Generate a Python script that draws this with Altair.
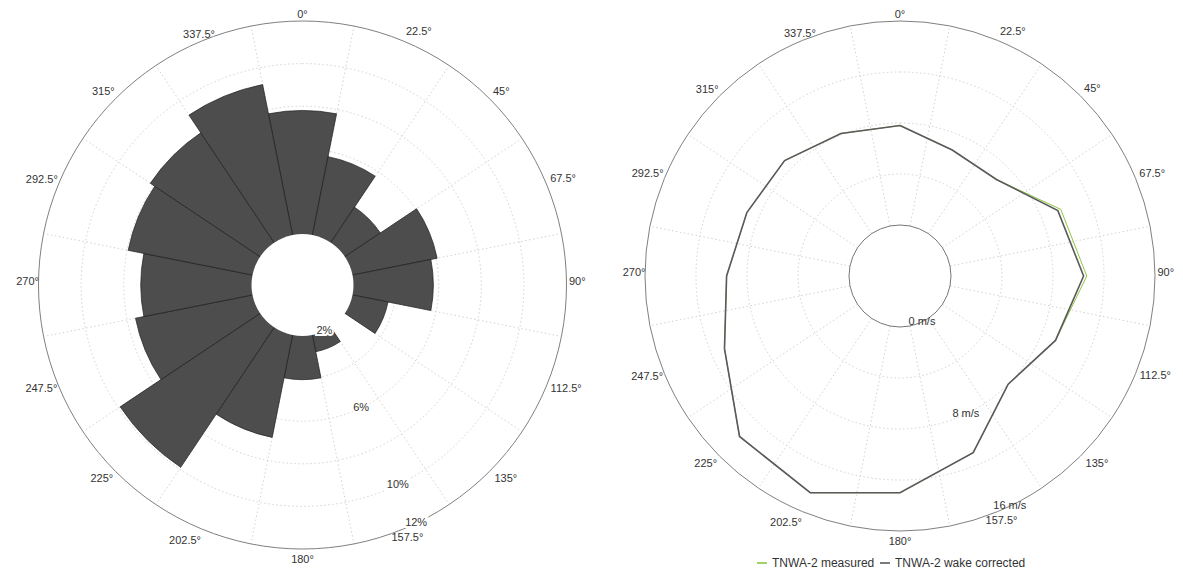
import math
import altair as alt
import pandas as pd

# ---------------- data ----------------
directions = [0, 22.5, 45, 67.5, 90, 112.5, 135, 157.5,
              180, 202.5, 225, 247.5, 270, 292.5, 315, 337.5]
angle_labels = ["0°", "22.5°", "45°", "67.5°", "90°", "112.5°", "135°", "157.5°",
                "180°", "202.5°", "225°", "247.5°", "270°", "292.5°", "315°", "337.5°"]

# wind rose frequencies (%)
freq_pct = [7.8, 5.75, 4.0, 6.05, 5.75, 3.7, 1.7, 2.8,
            4.05, 6.9, 9.9, 7.6, 7.2, 7.95, 8.2, 9.2]
freq_ticks = [2, 4, 6, 8, 10, 12]
freq_label_values = [2, 6, 10, 12]
freq_label_text = ["2%", "6%", "10%", "12%"]

# mean wind speed per direction (m/s)
series_names = ["TNWA-2 measured", "TNWA-2 wake corrected"]
speed_measured = [7.8, 6.7, 6.7, 9.65, 10.65, 9.2, 8.0, 11.0,
                  13.0, 14.4, 13.8, 10.9, 9.6, 9.0, 8.8, 8.1]
speed_corrected = [7.8, 6.7, 6.7, 9.4, 10.4, 9.2, 8.0, 11.0,
                   13.0, 14.4, 13.8, 10.9, 9.6, 9.0, 8.8, 8.1]
speed_ticks = [0, 4, 8, 12, 16]
speed_label_values = [0, 8, 16]
speed_label_text = ["0 m/s", "8 m/s", "16 m/s"]

# ---------------- styling / layout ----------------
FONT = "Liberation Sans"
TXT = "#333333"
GRID = "#d2d2d2"
H = 556
WL, WR = 594, 573
LABEL_ANGLE = 154.5
SECTOR = 22.5
SERIES_COLORS = ["#8dc63f", "#5a5a5a"]

TS = alt.Scale(type="linear", domain=[0, 360], range=[0, 2 * math.pi])

# label groups: (filter, align, base offset px, |cos| term, lower term, dx, dy)
LABEL_GROUPS = [
    ("datum.dir == 0 || datum.dir == 337.5", "center", 6.5, 0, 0, 0, 0),
    ("datum.dir == 180 || datum.dir == 157.5", "center", 6.5, 0, 4, 0, 0),
    ("datum.dir > 0 && datum.dir <= 90", "left", 2.5, 4, 0, 0, -3),
    ("datum.dir > 90 && datum.dir < 150", "left", 2.5, 4, 7, -2, 0),
    ("datum.dir > 190 && datum.dir < 260", "right", 1.5, 4, 7, 4, 1),
    ("datum.dir > 260 && datum.dir < 330", "right", 1.5, 4, 0, 2, -3),
]


def frame(width, cx, cy, R, hole, ticks):
    lo, hi = ticks[0], ticks[-1]
    k = (R - hole) / (hi - lo)          # px per data unit
    off = hole / k - lo                 # radial unit u = value + off
    uout = hi + off
    RS = alt.Scale(type="linear", domain=[0, uout], range=[0, R], zero=True, nice=False)
    XS = alt.Scale(domain=[-cx / k, (width - cx) / k], nice=False, zero=False)
    YS = alt.Scale(domain=[-(H - cy) / k, cy / k], nice=False, zero=False)
    return k, off, uout, RS, XS, YS


def circles(values, off, RS, cx, cy, **style):
    df = pd.DataFrame({"v": values})
    return alt.Chart(df).transform_calculate(u=f"datum.v + {off}").mark_arc(**style).encode(
        theta=alt.value(0), theta2=alt.value(2 * math.pi),
        radius=alt.Radius("u:Q", scale=RS, stack=None),
        x=alt.value(cx), y=alt.value(cy),
    )


def spokes(lo, hi, off, XS, YS):
    df = pd.DataFrame({"dir": directions})
    return alt.Chart(df).transform_calculate(
        a=f"(datum.dir + {SECTOR / 2}) * PI / 180",
        ui=f"{lo + off}", uo=f"{hi + off}",
    ).transform_calculate(
        x="datum.ui * sin(datum.a)", y="datum.ui * cos(datum.a)",
        x2="datum.uo * sin(datum.a)", y2="datum.uo * cos(datum.a)",
    ).mark_rule(color=GRID, strokeDash=[1.5, 2.5], strokeWidth=1).encode(
        x=alt.X("x:Q", scale=XS, axis=None), y=alt.Y("y:Q", scale=YS, axis=None),
        x2="x2:Q", y2="y2:Q",
    )


def angle_text(uout, k, RS, cx, cy):
    df = pd.DataFrame({"dir": directions, "label": angle_labels})
    c = "cos(datum.dir * PI / 180)"
    layers = []
    for flt, align, base, ca, lo, dx, dy in LABEL_GROUPS:
        layers.append(
            alt.Chart(df).transform_filter(flt).transform_calculate(
                ur=f"{uout} + ({base} + {ca} * abs({c}) + {lo} * max(0, -{c})) / {k}"
            ).mark_text(align=align, baseline="middle", dx=dx, dy=dy, font=FONT,
                        fontSize=11, color=TXT).encode(
                theta=alt.Theta("dir:Q", scale=TS, stack=None),
                radius=alt.Radius("ur:Q", scale=RS, stack=None),
                text="label:N", x=alt.value(cx), y=alt.value(cy))
        )
    return layers


def radial_text(values, texts, off, RS, cx, cy, halo):
    df = pd.DataFrame({"v": values, "t": texts})
    base = alt.Chart(df).transform_calculate(u=f"datum.v + {off}", a=f"{LABEL_ANGLE}")
    enc = dict(theta=alt.Theta("a:Q", scale=TS, stack=None),
               radius=alt.Radius("u:Q", scale=RS, stack=None), text="t:N",
               x=alt.value(cx), y=alt.value(cy))
    layers = []
    if halo:
        layers.append(base.mark_text(font=FONT, fontSize=11, color="white", stroke="white",
                                     strokeWidth=4, align="center", baseline="middle").encode(**enc))
    layers.append(base.mark_text(font=FONT, fontSize=11, color=TXT,
                                 align="center", baseline="middle").encode(**enc))
    return layers


# ---------------- left: wind rose ----------------
CXL, CYL, RL, HOLEL = 294.5, 276, 264, 51
kL, offL, uoutL, RSL, XSL, YSL = frame(WL, CXL, CYL, RL, HOLEL, freq_ticks)

bars_df = pd.DataFrame({"dir": directions, "pct": freq_pct})
bars = alt.Chart(bars_df).transform_calculate(
    u=f"datum.pct + {offL}", t0=f"datum.dir - {SECTOR / 2}", t1=f"datum.dir + {SECTOR / 2}"
).mark_arc(fill="#4d4d4d", stroke="#1e1e1e", strokeWidth=0.7).encode(
    theta=alt.Theta("t0:Q", scale=TS, stack=None), theta2=alt.Theta2("t1:Q"),
    radius=alt.Radius("u:Q", scale=RSL, stack=None),
    x=alt.value(CXL), y=alt.value(CYL),
)

left = alt.layer(
    spokes(freq_ticks[0], freq_ticks[-1], offL, XSL, YSL),
    circles(freq_ticks[1:-1], offL, RSL, CXL, CYL, filled=False, stroke=GRID,
            strokeDash=[1.5, 2.5], strokeWidth=1),
    bars,
    circles([freq_ticks[0]], offL, RSL, CXL, CYL, fill="white", strokeWidth=0),
    circles([freq_ticks[-1]], offL, RSL, CXL, CYL, filled=False, stroke="#808080", strokeWidth=1),
    *angle_text(uoutL, kL, RSL, CXL, CYL),
    *radial_text(freq_label_values, freq_label_text, offL, RSL, CXL, CYL, True),
).properties(width=WL, height=H)

# ---------------- right: mean speed ----------------
CXR, CYR, RR, HOLER = 892 - WL, 267, 255, 51
kR, offR, uoutR, RSR, XSR, YSR = frame(WR, CXR, CYR, RR, HOLER, speed_ticks)

COLOR = alt.Color(
    "series:N", scale=alt.Scale(domain=series_names, range=SERIES_COLORS),
    legend=alt.Legend(orient="none", legendX=748, legendY=548, direction="horizontal",
                      title=None, symbolType="stroke", symbolStrokeWidth=1.6,
                      symbolSize=100, labelFont=FONT, labelFontSize=12,
                      labelColor=TXT, labelOffset=4, columnPadding=1, padding=0))


def speed_line(values, name, width):
    df = pd.DataFrame({"dir": directions, "speed": values, "series": [name] * len(directions)})
    return alt.Chart(df).transform_calculate(
        u=f"datum.speed + {offR}", a="datum.dir * PI / 180"
    ).transform_calculate(
        x="datum.u * sin(datum.a)", y="datum.u * cos(datum.a)"
    ).mark_line(interpolate="linear-closed", strokeWidth=width).encode(
        x=alt.X("x:Q", scale=XSR, axis=None),
        y=alt.Y("y:Q", scale=YSR, axis=None),
        order=alt.Order("dir:Q"),
        color=COLOR,
    )


right = alt.layer(
    spokes(speed_ticks[0], speed_ticks[-1], offR, XSR, YSR),
    circles(speed_ticks[1:-1], offR, RSR, CXR, CYR, filled=False, stroke=GRID,
            strokeDash=[1.5, 2.5], strokeWidth=1),
    circles([speed_ticks[0]], offR, RSR, CXR, CYR, filled=False, stroke="#777777", strokeWidth=1),
    circles([speed_ticks[-1]], offR, RSR, CXR, CYR, filled=False, stroke="#808080", strokeWidth=1),
    speed_line(speed_measured, series_names[0], 1.0),
    speed_line(speed_corrected, series_names[1], 1.6),
    *angle_text(uoutR, kR, RSR, CXR, CYR),
    *radial_text(speed_label_values, speed_label_text, offR, RSR, CXR, CYR, False),
).properties(width=WR, height=H)

chart = alt.hconcat(left, right, spacing=0).properties(
    padding=0, background="white"
).configure_view(strokeWidth=0)

chart.save("out.html", embed_options={"renderer": "svg", "actions": False})
